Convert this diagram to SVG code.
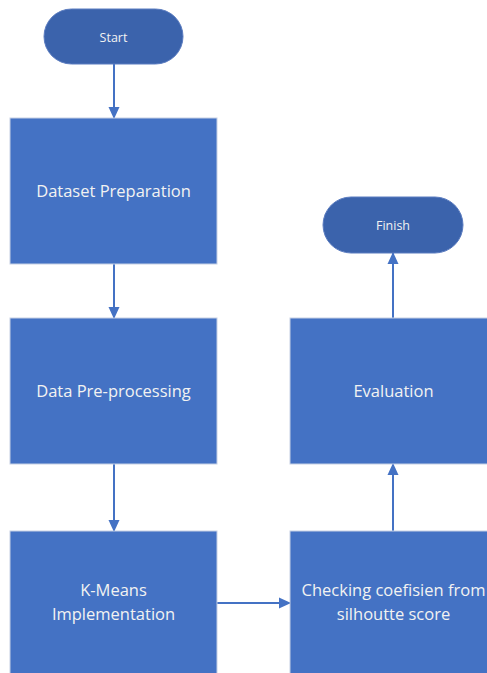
<svg xmlns="http://www.w3.org/2000/svg" width="487" height="673" viewBox="0 0 487 673">
<style>
.box{fill:#4472C4;stroke:#C5D0E4;stroke-width:1}
.pill{fill:#3B63AC;stroke:#5B7CC0;stroke-width:1}
.t{font-family:"Open Sans","Noto Sans",sans-serif;fill:#F2F2F2;text-anchor:middle}
.bt{font-size:16.5px}
.pt{font-size:12.5px}
.c{stroke:#4472C4;stroke-width:2;fill:none;marker-end:url(#ah)}
</style>
<defs>
<marker id="ah" markerWidth="12" markerHeight="12" refX="11" refY="6" orient="auto" markerUnits="userSpaceOnUse">
<path d="M0,0.5 L12,6 L0,11.5 Z" fill="#4472C4"/>
</marker>
</defs>
<rect width="487" height="673" fill="#FFFFFF"/>
<g id="connectors">
<line class="c" x1="114" y1="64" x2="114" y2="118"/>
<line class="c" x1="114" y1="264" x2="114" y2="318"/>
<line class="c" x1="114" y1="464" x2="114" y2="531"/>
<line class="c" x1="217" y1="603" x2="290" y2="603"/>
<line class="c" x1="393" y1="531" x2="393" y2="464"/>
<line class="c" x1="393" y1="318" x2="393" y2="253"/>
</g>
<g id="start">
<rect class="pill" x="44" y="9" width="139" height="55" rx="27.5"/>
<text class="t pt" x="113.5" y="41.5">Start</text>
</g>
<g id="dataset">
<rect class="box" x="10" y="118" width="207" height="146"/>
<text class="t bt" x="113.5" y="197">Dataset Preparation</text>
</g>
<g id="preprocessing">
<rect class="box" x="10" y="318" width="207" height="146"/>
<text class="t bt" x="113.5" y="397">Data Pre-processing</text>
</g>
<g id="kmeans">
<rect class="box" x="10" y="531" width="207" height="150"/>
<text class="t bt" x="113.5" y="596">K-Means</text>
<text class="t bt" x="113.5" y="620">Implementation</text>
</g>
<g id="checking">
<rect class="box" x="290" y="531" width="207" height="150"/>
<text class="t bt" x="393.5" y="596">Checking coefisien from</text>
<text class="t bt" x="393.5" y="620">silhoutte score</text>
</g>
<g id="evaluation">
<rect class="box" x="290" y="318" width="207" height="146"/>
<text class="t bt" x="393.5" y="397">Evaluation</text>
</g>
<g id="finish">
<rect class="pill" x="323" y="197" width="140" height="56" rx="28"/>
<text class="t pt" x="393" y="229.5">Finish</text>
</g>
</svg>
